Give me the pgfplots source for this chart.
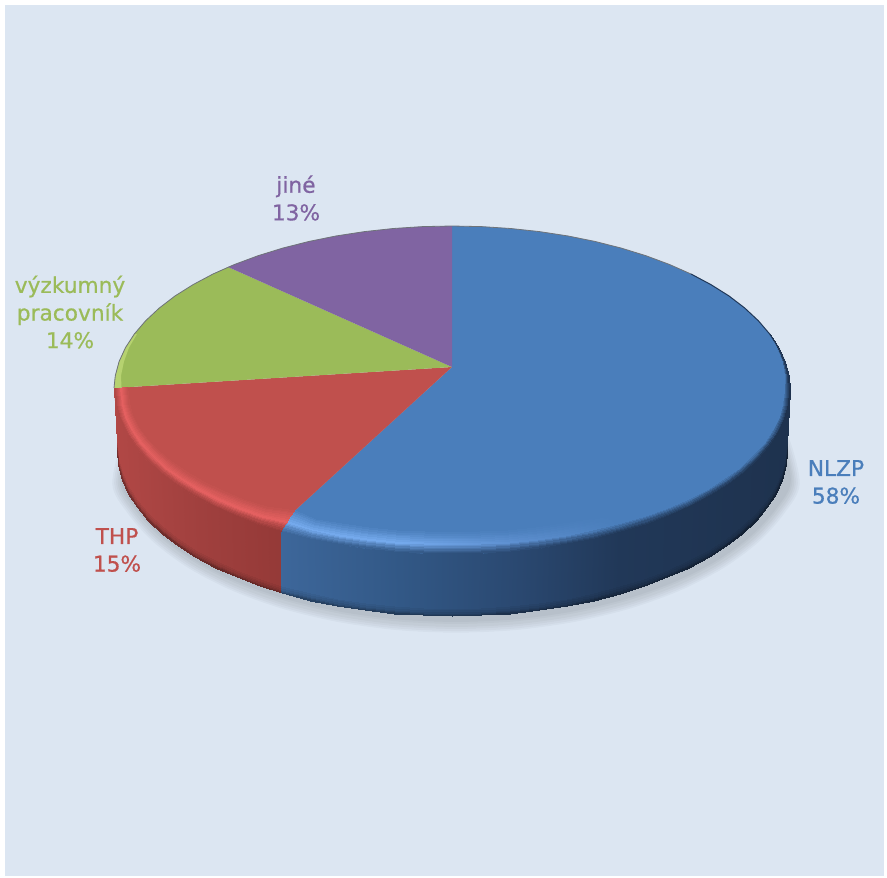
\documentclass[border=0pt]{standalone}
\usepackage{pgfplots}
\usepackage{pgfplotstable}
\usepackage{fontspec}
\setmainfont{DejaVu Sans}[FakeBold=0.6]
\pgfplotsset{compat=1.18}
\definecolor{panel}{RGB}{220,230,242}
\definecolor{Rf}{RGB}{192,80,77}
\definecolor{Rh}{RGB}{228,96,96}
\definecolor{Bf}{RGB}{74,126,187}
\definecolor{Bh1}{RGB}{116,169,236}
\definecolor{Bh2}{RGB}{92,142,206}
\definecolor{Gf}{RGB}{155,187,89}
\definecolor{Gh}{RGB}{182,210,112}
\definecolor{Pf}{RGB}{128,100,162}
\definecolor{Rs1}{RGB}{178,72,70}
\definecolor{Rs2}{RGB}{160,64,62}
\definecolor{Rs3}{RGB}{146,56,54}
\definecolor{Bs1}{RGB}{62,104,156}
\definecolor{Bs2}{RGB}{50,88,134}
\definecolor{Bs3}{RGB}{42,72,112}
\definecolor{Bs4}{RGB}{33,56,88}
\definecolor{Bs5}{RGB}{30,50,78}
% colour stops: red part x-110, blue part x+130
\newcommand{\cmU}[2]{\pgfplotsset{colormap={#1}{
 color(0pt)=(Rh!#2!Rf) color(190pt)=(Rh!#2!Rf)
 color(400pt)=(Bh1!#2!Bf) color(530pt)=(Bh1!#2!Bf) color(650pt)=(Bh2!#2!Bf)
 color(750pt)=(Bf) color(925pt)=(Bf)}}}
\newcommand{\cmL}[2]{\pgfplotsset{colormap={#1}{
 color(0pt)=(Rh!#2!Rs1) color(90pt)=(Rh!#2!Rs2) color(190pt)=(Rh!#2!Rs3)
 color(400pt)=(Bh1!#2!Bs1) color(530pt)=(Bh1!#2!Bs2) color(650pt)=(Bh2!#2!Bs3)
 color(750pt)=(Bf!#2!Bs4) color(925pt)=(Bf!#2!Bs5)}}}
\newcommand{\cmD}[2]{\pgfplotsset{colormap={#1}{
 color(0pt)=(black!#2!Rs1) color(90pt)=(black!#2!Rs2) color(190pt)=(black!#2!Rs3)
 color(400pt)=(black!#2!Bs1) color(530pt)=(black!#2!Bs2) color(650pt)=(black!#2!Bs3)
 color(750pt)=(black!#2!Bs4) color(925pt)=(black!#2!Bs5)}}}
\cmU{u1}{12}\cmU{u2}{25}\cmU{u3}{40}\cmU{u4}{55}\cmU{u5}{70}\cmU{u6}{85}\cmU{u7}{100}
\cmL{l1}{85}\cmL{l2}{68}\cmL{l3}{50}\cmL{l4}{34}\cmL{l5}{20}\cmL{l6}{8}\cmL{l7}{0}
\cmD{d1}{5}\cmD{d2}{10}\cmD{d3}{16}\cmD{d4}{24}\cmD{d5}{34}
\pgfplotstableread{
x y ux uy xb yb r
790 390 -.6 0 787 451 0
790 390 -.6 0 787 451 1
788.7 404.3 -.6 -.087 785.7 465.4 0
788.7 404.3 -.6 -.087 785.7 465.4 1
784.9 418.5 -.59 -.174 781.9 479.6 0
784.9 418.5 -.59 -.174 781.9 479.6 1
778.5 432.4 -.58 -.259 775.6 493.7 0
778.5 432.4 -.58 -.259 775.6 493.7 1
769.6 446.1 -.564 -.342 766.8 507.4 0
769.6 446.1 -.564 -.342 766.8 507.4 1
758.3 459.3 -.544 -.423 755.6 520.7 0
758.3 459.3 -.544 -.423 755.6 520.7 1
744.7 472 -.52 -.5 742.1 533.5 0
744.7 472 -.52 -.5 742.1 533.5 1
728.9 484.1 -.492 -.574 726.4 545.6 0
728.9 484.1 -.492 -.574 726.4 545.6 1
710.9 495.4 -.46 -.643 708.6 557.1 0
710.9 495.4 -.46 -.643 708.6 557.1 1
691 506 -.424 -.707 688.9 567.7 0
691 506 -.424 -.707 688.9 567.7 1
669.3 515.6 -.386 -.766 667.3 577.4 0
669.3 515.6 -.386 -.766 667.3 577.4 1
645.9 524.3 -.344 -.819 644.2 586.2 0
645.9 524.3 -.344 -.819 644.2 586.2 1
621 532 -.3 -.866 619.5 593.9 0
621 532 -.3 -.866 619.5 593.9 1
594.8 538.6 -.254 -.906 593.6 600.5 0
594.8 538.6 -.254 -.906 593.6 600.5 1
567.6 544.1 -.205 -.94 566.6 606 0
567.6 544.1 -.205 -.94 566.6 606 1
539.5 548.4 -.155 -.966 538.7 610.4 0
539.5 548.4 -.155 -.966 538.7 610.4 1
510.7 551.5 -.104 -.985 510.2 613.5 0
510.7 551.5 -.104 -.985 510.2 613.5 1
481.5 553.4 -.052 -.996 481.2 615.4 0
481.5 553.4 -.052 -.996 481.2 615.4 1
452 554 0 -1 452 616 0
452 554 0 -1 452 616 1
422.5 553.4 .052 -.996 422.8 615.4 0
422.5 553.4 .052 -.996 422.8 615.4 1
393.3 551.5 .104 -.985 393.8 613.5 0
393.3 551.5 .104 -.985 393.8 613.5 1
364.5 548.4 .155 -.966 365.3 610.4 0
364.5 548.4 .155 -.966 365.3 610.4 1
336.4 544.1 .205 -.94 337.4 606 0
336.4 544.1 .205 -.94 337.4 606 1
309.2 538.6 .254 -.906 310.4 600.5 0
309.2 538.6 .254 -.906 310.4 600.5 1
281 531.5 .65 -1 281.5 593.3 0
281 531.5 .65 -1 281.5 593.3 1
}\bluetab
\pgfplotstableread{
x y ux uy xb yb r
281 531.5 .65 -1 281.5 593.3 0
281 531.5 .65 -1 281.5 593.3 1
258.1 524.3 .344 -.819 259.8 586.2 0
258.1 524.3 .344 -.819 259.8 586.2 1
234.7 515.6 .386 -.766 236.7 577.4 0
234.7 515.6 .386 -.766 236.7 577.4 1
213 506 .424 -.707 215.1 567.7 0
213 506 .424 -.707 215.1 567.7 1
193.1 495.4 .46 -.643 195.4 557.1 0
193.1 495.4 .46 -.643 195.4 557.1 1
175.1 484.1 .492 -.574 177.6 545.6 0
175.1 484.1 .492 -.574 177.6 545.6 1
159.3 472 .52 -.5 161.9 533.5 0
159.3 472 .52 -.5 161.9 533.5 1
145.7 459.3 .544 -.423 148.4 520.7 0
145.7 459.3 .544 -.423 148.4 520.7 1
134.4 446.1 .564 -.342 137.2 507.4 0
134.4 446.1 .564 -.342 137.2 507.4 1
125.5 432.4 .58 -.259 128.4 493.7 0
125.5 432.4 .58 -.259 128.4 493.7 1
119.1 418.5 .59 -.174 122.1 479.6 0
119.1 418.5 .59 -.174 122.1 479.6 1
115.3 404.3 .6 -.087 118.3 465.4 0
115.3 404.3 .6 -.087 118.3 465.4 1
114 388 .6 -.04 117 451 0
114 388 .6 -.04 117 451 1
}\redtab
\pgfplotstableread{
x y ux uy r
790 390 -.6 0 0
790 390 -.6 0 1
788.7 375.7 -.4 .03 0
788.7 375.7 -.4 .03 1
784.9 361.5 -.25 .03 0
784.9 361.5 -.25 .03 1
778.5 347.6 -.12 .03 0
778.5 347.6 -.12 .03 1
769.6 333.9 0 0 0
769.6 333.9 0 0 1
}\tapertab
\pgfplotstableread{
x y
740 400
768 430
781.9 479.6
766.8 507.4
742.1 533.5
708.6 557.1
667.3 577.4
619.5 593.9
566.6 606
510.2 613.5
452 616
393.8 613.5
337.4 606
284.5 593.9
236.7 577.4
195.4 557.1
161.9 533.5
137.2 507.4
122.1 479.6
136 430
164 400
}\shadowtab
% one ring of the bevel
\newcommand{\rimpart}[5]{\addplot[surf,shader=interp,mesh/cols=2,colormap name=#4,
  point meta={\thisrow{x}+#5}] table[
  x expr={\thisrow{x}+\thisrow{ux}*(#2+(#3-#2)*\thisrow{r})},
  y expr={\thisrow{y}+\thisrow{uy}*(#2+(#3-#2)*\thisrow{r})}] {#1};}
\newcommand{\rim}[3]{\rimpart{\redtab}{#1}{#2}{#3}{-110}\rimpart{\bluetab}{#1}{#2}{#3}{130}\rimpart{\tapertab}{#1}{#2}{#3}{130}}
% one strip of the side wall, f = fraction from top rim to bottom edge
\newcommand{\sidepart}[5]{\addplot[surf,shader=interp,mesh/cols=2,colormap name=#4,
  point meta={\thisrow{x}+#5}] table[
  x expr={\thisrow{x}+(\thisrow{xb}-\thisrow{x})*(#2+(#3-#2)*\thisrow{r})},
  y expr={\thisrow{y}+(\thisrow{yb}-\thisrow{y})*(#2+(#3-#2)*\thisrow{r})}] {#1};}
\newcommand{\side}[3]{\sidepart{\redtab}{#1}{#2}{#3}{-110}\sidepart{\bluetab}{#1}{#2}{#3}{130}}
\newcommand{\shadowlayer}[3]{\addplot[draw=none,fill=black,fill opacity=.026,smooth] table[
  x expr={456+(\thisrow{x}-452)*#1},y expr={451+(\thisrow{y}-451)*#2+#3}] {\shadowtab};}
\begin{document}
\begin{tikzpicture}
\begin{axis}[
  scale only axis,width=887pt,height=878pt,
  xmin=0,xmax=887,ymin=0,ymax=878,y dir=reverse,
  hide axis,
  point meta min=0,point meta max=925,
  /tikz/font=\fontsize{21.7}{27.6}\selectfont,
]
% page and panel
\addplot[draw=none,fill=white] coordinates {(0,0)(887,0)(887,878)(0,878)};
\addplot[draw=none,fill=panel] coordinates {(5,5)(884,5)(884,876)(5,876)};
% soft shadow
\shadowlayer{1.042}{1.095}{1}
\shadowlayer{1.036}{1.085}{1}
\shadowlayer{1.030}{1.072}{1}
\shadowlayer{1.025}{1.060}{1}
\shadowlayer{1.020}{1.048}{0}
\shadowlayer{1.015}{1.036}{0}
% side wall
\side{0}{.88}{l7}
\side{.88}{.91}{d1}
\side{.91}{.94}{d2}
\side{.94}{.96}{d3}
\side{.96}{.98}{d4}
\side{.98}{1}{d5}
% top faces
\addplot[draw=none,fill=Bf] coordinates {(452,367)(452,226)(481.5,226.6)(510.7,228.5)(539.5,231.6)(567.6,235.9)(594.8,241.4)(621,248)(645.9,255.7)(669.3,264.4)(691,274)(710.9,284.6)(728.9,295.9)(744.7,308)(758.3,320.7)(769.6,333.9)(778.5,347.6)(784.9,361.5)(788.7,375.7)(790,390)(788.7,404.3)(784.9,418.5)(778.5,432.4)(769.6,446.1)(758.3,459.3)(744.7,472)(728.9,484.1)(710.9,495.4)(691,506)(669.3,515.6)(645.9,524.3)(621,532)(594.8,538.6)(567.6,544.1)(539.5,548.4)(510.7,551.5)(481.5,553.4)(452,554)(422.5,553.4)(393.3,551.5)(364.5,548.4)(336.4,544.1)(309.2,538.6)(281,531.5)(294,511.5)};
\addplot[draw=none,fill=Rf] coordinates {(452,367)(294,511.5)(281,531.5)(258.1,524.3)(234.7,515.6)(213,506)(193.1,495.4)(175.1,484.1)(159.3,472)(145.7,459.3)(134.4,446.1)(125.5,432.4)(119.1,418.5)(115.3,404.3)(114,388)};
\addplot[draw=none,fill=Gf] coordinates {(452,367)(114,388)(115.3,375.7)(119.1,361.5)(125.5,347.6)(134.4,333.9)(145.7,320.7)(159.3,308)(175.1,295.9)(193.1,284.6)(213,274)(228,267)};
\addplot[draw=none,fill=Pf] coordinates {(452,367)(228,267)(234.7,264.4)(258.1,255.7)(283,248)(309.2,241.4)(336.4,235.9)(364.5,231.6)(393.3,228.5)(422.5,226.6)(452,226)};
% bevel: from the face colour up to the highlight, then down to the side colour
\rim{22}{20}{u1}
\rim{20}{18.2}{u2}
\rim{18.2}{16.4}{u3}
\rim{16.4}{14.6}{u4}
\rim{14.6}{12.8}{u5}
\rim{12.8}{11}{u6}
\rim{11}{9}{u7}
\rim{9}{7.6}{l1}
\rim{7.6}{6.2}{l2}
\rim{6.2}{4.8}{l3}
\rim{4.8}{3.4}{l4}
\rim{3.4}{2}{l5}
\rim{2}{.9}{l6}
\rim{.9}{0}{l7}
% light edge of the green slice
\addplot[draw=none,fill=Gh] coordinates {(114,388)(115.3,375.7)(119.1,361.5)(125.5,347.6)(134.4,333.9)(137,334)(129,347.6)(124,361.5)(121,375.7)(121.5,387.6)};
% thin outline of the far rim
\addplot[color=black!50!panel,line width=.8pt] coordinates {(114,388)(115.3,375.7)(119.1,361.5)(125.5,347.6)(134.4,333.9)(145.7,320.7)(159.3,308)(175.1,295.9)(193.1,284.6)(213,274)(234.7,264.4)(258.1,255.7)(283,248)(309.2,241.4)(336.4,235.9)(364.5,231.6)(393.3,228.5)(422.5,226.6)(452,226)(481.5,226.6)(510.7,228.5)(539.5,231.6)(567.6,235.9)(594.8,241.4)(621,248)(645.9,255.7)(669.3,264.4)(691,274)};
\addplot[color=Bs4,line width=1pt] coordinates {(691,274)(710.9,284.6)(728.9,295.9)(744.7,308)(758.3,320.7)(769.6,333.9)(778.5,347.6)(784.9,361.5)(788.7,375.7)(790,390)};
% labels
\node[text=Pf,align=center] at (axis cs:296,198) {jiné\\13\%};
\node[text=Gf,align=center] at (axis cs:70,312) {výzkumný\\pracovník\\14\%};
\node[text=Rf,align=center] at (axis cs:117,550) {THP\\15\%};
\node[text=Bf,align=center] at (axis cs:836,482) {NLZP\\58\%};
\end{axis}
\end{tikzpicture}
\end{document}
